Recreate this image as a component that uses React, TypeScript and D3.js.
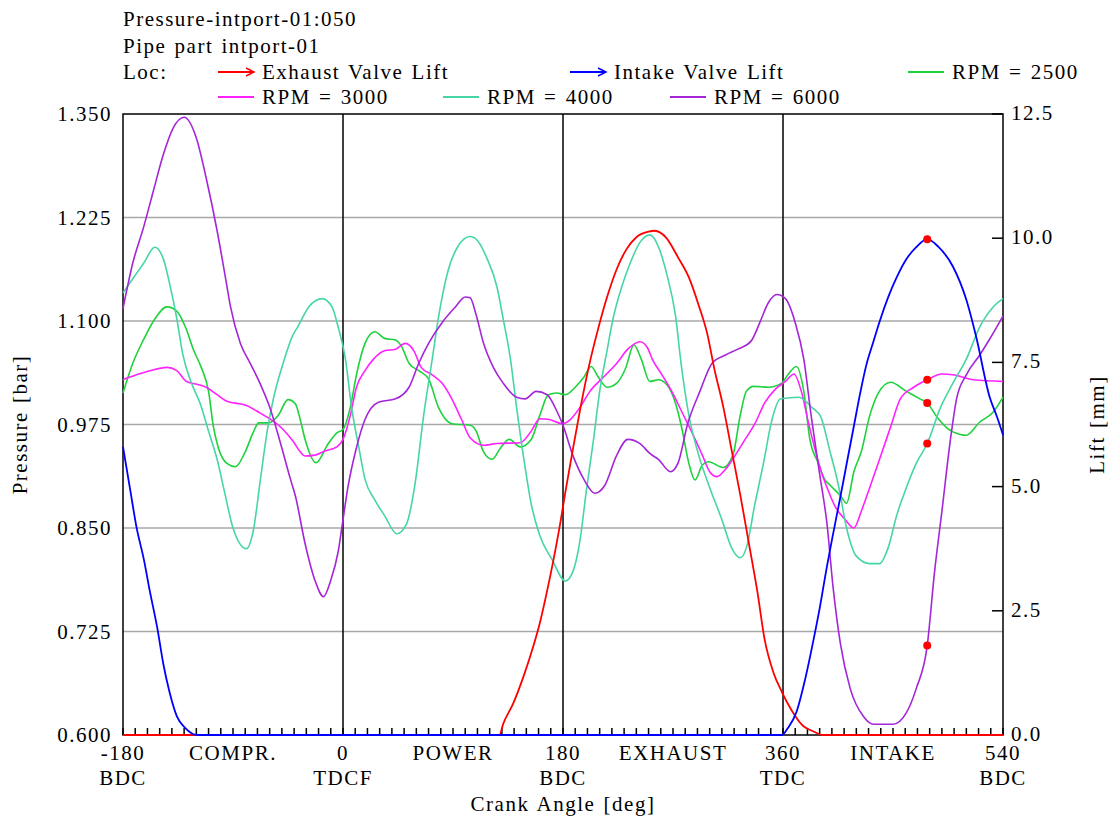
import React from "react";
import * as d3 from "d3";

const width = 1114;
const height = 821;
const plot = { left: 123, right: 1003, top: 114, bottom: 735 };

// crank angle [deg], pressure [bar]
const rpm2500 = [
  [-180, 1.013], [-172, 1.049], [-163, 1.078], [-155, 1.1], [-144, 1.117], [-136, 1.112], [-129, 1.093],
  [-122, 1.064], [-116, 1.044], [-110, 1.015], [-106, 0.972], [-102, 0.947], [-95, 0.928], [-88, 0.924],
  [-80, 0.942], [-73, 0.967], [-69, 0.977], [-61, 0.977], [-53, 0.986], [-45, 1.005], [-39, 1.0],
  [-35, 0.981], [-31, 0.957], [-22, 0.929], [-12, 0.952], [-5, 0.965], [0, 0.969], [6, 0.996], [11, 1.035],
  [18, 1.073], [26, 1.087], [34, 1.079], [43, 1.077], [48, 1.069], [54, 1.049], [62, 1.04], [70, 1.03],
  [78, 0.996], [89, 0.976], [104, 0.974], [109, 0.967], [115, 0.942], [122, 0.933], [129, 0.947],
  [136, 0.957], [145, 0.948], [154, 0.957], [161, 0.986], [168, 1.011], [175, 1.013], [182, 1.011],
  [190, 1.02], [197, 1.032], [203, 1.045], [209, 1.032], [216, 1.02], [224, 1.025], [231, 1.042],
  [238, 1.071], [244, 1.054], [251, 1.027], [258, 1.029], [265, 1.023], [272, 1.001], [277, 0.972],
  [283, 0.928], [288, 0.908], [294, 0.926], [299, 0.93], [311, 0.923], [319, 0.938], [325, 0.986],
  [330, 1.015], [336, 1.021], [348, 1.02], [359, 1.025], [364, 1.035], [371, 1.045], [377, 1.015],
  [382, 0.957], [389, 0.928], [394, 0.909], [399, 0.901], [407, 0.889], [412, 0.88], [418, 0.918],
  [424, 0.942], [431, 0.986], [438, 1.013], [448, 1.026], [461, 1.015], [472, 1.006], [478, 1.001],
  [486, 0.984], [494, 0.971], [505, 0.963], [510, 0.962], [521, 0.978], [532, 0.99], [540, 1.008]
];

const rpm3000 = [
  [-180, 1.029], [-169, 1.035], [-158, 1.04], [-144, 1.044], [-136, 1.04], [-128, 1.027], [-118, 1.023],
  [-112, 1.02], [-103, 1.011], [-95, 1.003], [-79, 0.998], [-68, 0.989], [-57, 0.979], [-49, 0.969],
  [-41, 0.955], [-35, 0.942], [-31, 0.937], [-23, 0.938], [-15, 0.943], [-5, 0.948], [0, 0.957],
  [6, 0.986], [11, 1.02], [18, 1.04], [25, 1.054], [34, 1.064], [43, 1.066], [51, 1.073], [58, 1.064],
  [64, 1.044], [73, 1.035], [81, 1.025], [89, 1.006], [97, 0.981], [104, 0.959], [115, 0.95], [126, 0.952],
  [145, 0.953], [154, 0.967], [161, 0.982], [169, 0.981], [179, 0.976], [186, 0.981], [194, 0.996],
  [202, 1.015], [213, 1.032], [224, 1.049], [233, 1.066], [243, 1.075], [249, 1.068], [253, 1.054],
  [261, 1.035], [269, 1.015], [277, 0.991], [285, 0.967], [294, 0.938], [300, 0.918], [306, 0.912],
  [313, 0.921], [321, 0.938], [329, 0.957], [337, 0.976], [345, 1.001], [354, 1.018], [362, 1.027],
  [369, 1.036], [375, 1.015], [381, 0.976], [388, 0.935], [392, 0.915], [396, 0.899], [403, 0.875],
  [411, 0.86], [418, 0.85], [424, 0.87], [431, 0.899], [439, 0.933], [448, 0.972], [456, 1.006],
  [467, 1.02], [478, 1.029], [490, 1.036], [499, 1.035], [516, 1.029], [540, 1.027]
];

const rpm4000 = [
  [-180, 1.134], [-172, 1.151], [-163, 1.17], [-154, 1.189], [-147, 1.175], [-142, 1.146], [-136, 1.103],
  [-131, 1.059], [-124, 1.025], [-117, 1.001], [-110, 0.967], [-103, 0.933], [-97, 0.894], [-90, 0.85],
  [-79, 0.825], [-73, 0.85], [-68, 0.904], [-62, 0.967], [-57, 1.006], [-49, 1.049], [-41, 1.083],
  [-37, 1.093], [-28, 1.117], [-17, 1.127], [-9, 1.117], [-4, 1.093], [2, 1.054], [7, 0.996], [13, 0.947],
  [18, 0.909], [26, 0.884], [34, 0.865], [44, 0.843], [52, 0.855], [59, 0.904], [66, 0.986], [73, 1.054],
  [79, 1.112], [86, 1.161], [94, 1.19], [104, 1.202], [108, 1.2], [118, 1.175], [126, 1.141], [131, 1.103],
  [137, 1.054], [142, 0.996], [148, 0.933], [154, 0.879], [161, 0.841], [171, 0.812], [182, 0.786],
  [188, 0.797], [194, 0.836], [199, 0.894], [205, 0.957], [210, 1.015], [216, 1.064], [221, 1.103],
  [228, 1.141], [235, 1.17], [243, 1.195], [251, 1.204], [258, 1.19], [265, 1.156], [272, 1.107],
  [277, 1.044], [283, 0.986], [291, 0.938], [300, 0.899], [310, 0.86], [318, 0.826], [325, 0.814],
  [330, 0.826], [337, 0.879], [344, 0.928], [351, 0.981], [358, 1.006], [373, 1.008], [384, 0.995],
  [391, 0.984], [398, 0.945], [405, 0.904], [412, 0.85], [420, 0.816], [431, 0.807], [439, 0.807],
  [446, 0.826], [453, 0.865], [461, 0.899], [469, 0.928], [478, 0.952], [489, 0.996], [499, 1.025],
  [510, 1.054], [521, 1.093], [532, 1.117], [540, 1.127]
];

const rpm6000 = [
  [-180, 1.115], [-172, 1.17], [-163, 1.214], [-155, 1.258], [-147, 1.301], [-139, 1.333], [-130, 1.346],
  [-120, 1.321], [-112, 1.273], [-103, 1.209], [-96, 1.151], [-92, 1.117], [-84, 1.073], [-76, 1.049],
  [-68, 1.025], [-60, 0.996], [-52, 0.957], [-43, 0.909], [-39, 0.889], [-31, 0.831], [-23, 0.787],
  [-16, 0.767], [-10, 0.787], [-4, 0.821], [0, 0.86], [4, 0.899], [11, 0.947], [18, 0.981], [29, 1.002],
  [43, 1.006], [54, 1.02], [62, 1.049], [70, 1.073], [81, 1.098], [92, 1.117], [100, 1.129], [104, 1.128],
  [109, 1.107], [115, 1.073], [123, 1.044], [131, 1.025], [142, 1.008], [149, 1.006], [158, 1.015],
  [167, 1.011], [175, 0.991], [180, 0.974], [188, 0.938], [197, 0.909], [206, 0.892], [214, 0.901],
  [224, 0.938], [233, 0.957], [243, 0.952], [251, 0.94], [258, 0.933], [268, 0.918], [274, 0.928],
  [282, 0.976], [292, 1.015], [302, 1.049], [313, 1.059], [323, 1.066], [334, 1.076], [341, 1.098],
  [348, 1.122], [355, 1.132], [362, 1.127], [370, 1.098], [377, 1.054], [383, 0.986], [390, 0.915],
  [396, 0.855], [401, 0.778], [407, 0.71], [415, 0.656], [426, 0.622], [434, 0.613], [450, 0.613],
  [461, 0.627], [469, 0.656], [478, 0.708], [484, 0.797], [490, 0.87], [497, 0.957], [502, 1.006],
  [510, 1.035], [521, 1.059], [529, 1.078], [540, 1.106]
];

// crank angle [deg], lift [mm]
const exhaustLift = [
  [-180, 0], [128, 0], [131, 0.22], [139, 0.62], [148, 1.2], [154, 1.65], [161, 2.25], [167, 2.9],
  [172, 3.5], [178, 4.3], [182, 4.9], [187, 5.6], [194, 6.55], [201, 7.4], [209, 8.2], [216, 8.81],
  [224, 9.38], [232, 9.78], [240, 10.02], [250, 10.13], [255, 10.15], [264, 10.02], [274, 9.62],
  [283, 9.21], [291, 8.65], [298, 8.08], [304, 7.35], [311, 6.62], [318, 5.73], [325, 4.84], [332, 3.87],
  [339, 2.89], [345, 1.92], [352, 1.27], [359, 0.87], [367, 0.5], [375, 0.22], [386, 0.06], [392, 0],
  [540, 0]
];

const intakeLift = [
  [-180, 5.8], [-174, 4.92], [-169, 4.19], [-163, 3.54], [-158, 2.89], [-152, 2.16], [-147, 1.43],
  [-142, 0.87], [-136, 0.38], [-129, 0.14], [-119, 0], [359, 0], [364, 0.14], [371, 0.46], [378, 1.11],
  [385, 1.92], [390, 2.55], [396, 3.4], [401, 4.05], [407, 4.8], [412, 5.45], [418, 6.22], [423, 6.86],
  [428, 7.43], [434, 7.92], [439, 8.32], [446, 8.81], [453, 9.21], [461, 9.58], [469, 9.82], [478, 9.98],
  [487, 9.83], [499, 9.43], [510, 8.76], [518, 8.02], [529, 6.81], [535, 6.41], [540, 6.04]
];

// red markers at the cursor crank angle
const cursorAngle = 478;
const cursorLift = [9.98];
const cursorPressure = [1.029, 1.001, 0.952, 0.708];

const pressureTicks = [0.6, 0.725, 0.85, 0.975, 1.1, 1.225, 1.35];
const liftTicks = [0, 2.5, 5, 7.5, 10, 12.5];
const crankTicks = [-180, 0, 180, 360, 540];
const crankNames = ["BDC", "TDCF", "BDC", "TDC", "BDC"];
const phaseNames = ["COMPR.", "POWER", "EXHAUST", "INTAKE"];
const phaseCenters = [-90, 90, 270, 450];

const pressureSeries = [
  { name: "RPM = 2500", data: rpm2500, color: "#1ed23c" },
  { name: "RPM = 3000", data: rpm3000, color: "#ff22ff" },
  { name: "RPM = 4000", data: rpm4000, color: "#46d6a6" },
  { name: "RPM = 6000", data: rpm6000, color: "#a526d8" }
];
const liftSeries = [
  { name: "Exhaust Valve Lift", data: exhaustLift, color: "#ff0000" },
  { name: "Intake Valve Lift", data: intakeLift, color: "#0000ff" }
];

const font = {
  fontFamily: "'Liberation Serif', 'Times New Roman', serif",
  fontSize: 21,
  letterSpacing: 1.5,
  wordSpacing: 1.5
};

export default function App() {
  const x = d3.scaleLinear().domain([-180, 540]).range([plot.left, plot.right]);
  const yP = d3.scaleLinear().domain([0.6, 1.35]).range([plot.bottom, plot.top]);
  const yL = d3.scaleLinear().domain([0, 12.5]).range([plot.bottom, plot.top]);

  const pLine = d3.line().x((d) => x(d[0])).y((d) => yP(d[1])).curve(d3.curveMonotoneX);
  const lLine = d3.line().x((d) => x(d[0])).y((d) => yL(d[1])).curve(d3.curveMonotoneX);

  const minorTicks = d3.range(-180, 541, 10);

  // legend entries: line start x, row y
  const legend = [
    { s: liftSeries[0], x: 218, y: 72, arrow: true },
    { s: liftSeries[1], x: 570, y: 72, arrow: true },
    { s: pressureSeries[0], x: 908, y: 72, arrow: false },
    { s: pressureSeries[1], x: 218, y: 97, arrow: false },
    { s: pressureSeries[2], x: 443, y: 97, arrow: false },
    { s: pressureSeries[3], x: 670, y: 97, arrow: false }
  ];

  return (
    <svg width={width} height={height} style={{ position: "absolute", left: 0, top: 0, background: "#fff" }}>
      <g style={font} fill="#000">
        <text x={123} y={26}>Pressure-intport-01:050</text>
        <text x={123} y={53}>Pipe part intport-01</text>
        <text x={123} y={79}>Loc:</text>
        {legend.map((l, i) => (
          <g key={i}>
            <line x1={l.x} x2={l.x + 36} y1={l.y} y2={l.y} stroke={l.s.color} strokeWidth={2} />
            {l.arrow && (
              <polyline
                points={`${l.x + 28},${l.y - 4} ${l.x + 36},${l.y} ${l.x + 28},${l.y + 4}`}
                fill="none"
                stroke={l.s.color}
                strokeWidth={1.5}
              />
            )}
            <text x={l.x + 44} y={l.y + 7}>{l.s.name}</text>
          </g>
        ))}
      </g>

      {/* grid */}
      {pressureTicks.slice(1, -1).map((t) => (
        <line key={t} x1={plot.left} x2={plot.right} y1={yP(t)} y2={yP(t)} stroke="#a8a8a8" strokeWidth={1.5} />
      ))}
      {crankTicks.slice(1, -1).map((t) => (
        <line key={t} x1={x(t)} x2={x(t)} y1={plot.top} y2={plot.bottom} stroke="#000" strokeWidth={1.5} />
      ))}
      <rect x={plot.left} y={plot.top} width={plot.right - plot.left} height={plot.bottom - plot.top}
        fill="none" stroke="#000" strokeWidth={1.5} />
      {minorTicks.map((t) => (
        <line key={t} x1={x(t)} x2={x(t)} y1={plot.bottom} y2={plot.bottom - 7} stroke="#000" strokeWidth={1.5} />
      ))}
      {liftTicks.map((t) => (
        <line key={t} x1={plot.right - 11} x2={plot.right} y1={yL(t)} y2={yL(t)} stroke="#000" strokeWidth={1.5} />
      ))}

      {/* curves */}
      {pressureSeries.map((s) => (
        <path key={s.name} d={pLine(s.data)} fill="none" stroke={s.color} strokeWidth={1.6} />
      ))}
      {liftSeries.map((s) => (
        <path key={s.name} d={lLine(s.data)} fill="none" stroke={s.color} strokeWidth={1.8} />
      ))}
      {cursorLift.map((v, i) => (
        <circle key={"l" + i} cx={x(cursorAngle)} cy={yL(v)} r={4} fill="#ff0000" />
      ))}
      {cursorPressure.map((v, i) => (
        <circle key={"p" + i} cx={x(cursorAngle)} cy={yP(v)} r={4} fill="#ff0000" />
      ))}

      {/* axis labels */}
      <g style={font} fill="#000">
        {pressureTicks.map((t) => (
          <text key={t} x={112} y={yP(t) + 7} textAnchor="end">{t.toFixed(3)}</text>
        ))}
        {liftTicks.map((t) => (
          <text key={t} x={1011} y={yL(t) + 6}>{t.toFixed(1)}</text>
        ))}
        {crankTicks.map((t, i) => (
          <g key={t}>
            <text x={x(t)} y={760} textAnchor="middle">{t}</text>
            <text x={x(t)} y={785} textAnchor="middle">{crankNames[i]}</text>
          </g>
        ))}
        {phaseNames.map((n, i) => (
          <text key={n} x={x(phaseCenters[i])} y={760} textAnchor="middle">{n}</text>
        ))}
        <text x={(plot.left + plot.right) / 2} y={811} textAnchor="middle">Crank Angle [deg]</text>
        <text transform={`translate(27, ${(plot.top + plot.bottom) / 2}) rotate(-90)`} textAnchor="middle">
          Pressure [bar]
        </text>
        <text transform={`translate(1104, ${(plot.top + plot.bottom) / 2}) rotate(-90)`} textAnchor="middle">
          Lift [mm]
        </text>
      </g>
    </svg>
  );
}
